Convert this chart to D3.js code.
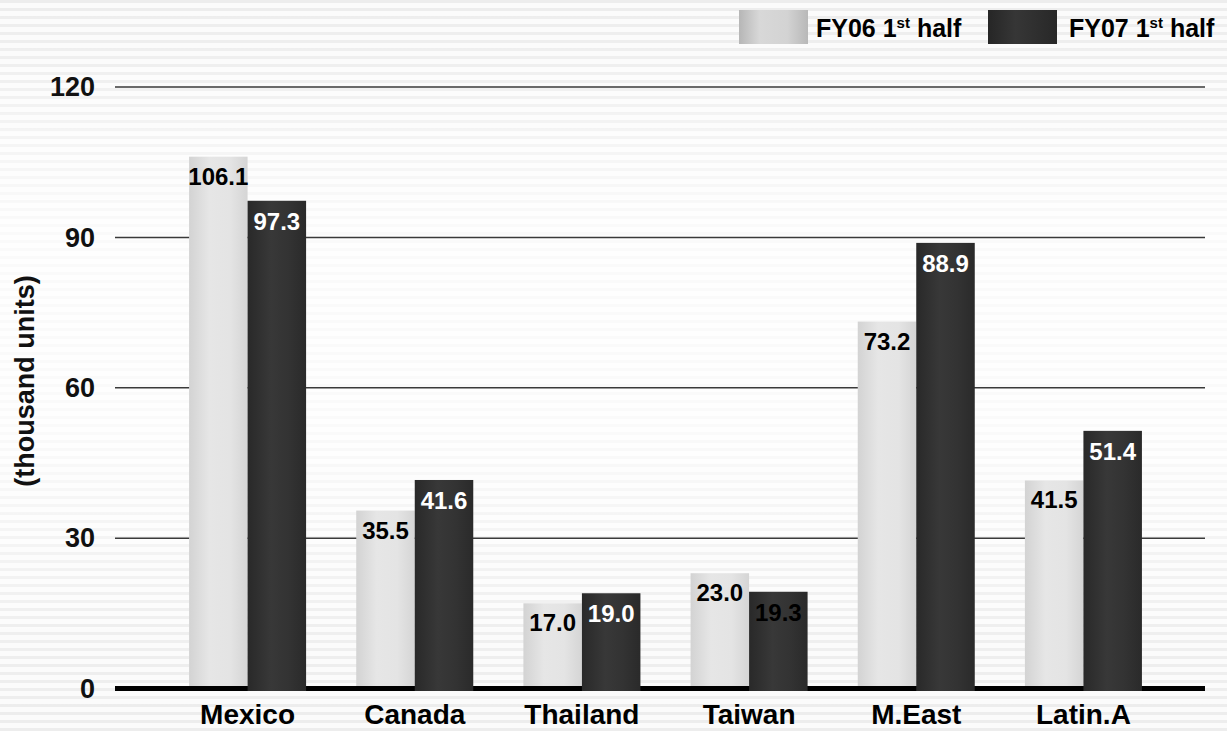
<!DOCTYPE html>
<html>
<head>
<meta charset="utf-8">
<script src="https://cdn.jsdelivr.net/npm/d3@7"></script>
<style>
  html, body { margin: 0; padding: 0; background: #ffffff; }
  svg { display: block; font-family: "Liberation Sans", Arial, Helvetica, sans-serif; font-weight: bold; }
</style>
</head>
<body>
<svg id="chart" width="1227" height="731"></svg>
<script>
// Regional sales, first half of FY06 vs FY07 (thousand units)
const categories = ["Mexico", "Canada", "Thailand", "Taiwan", "M.East", "Latin.A"];
const seriesNames = ["FY06", "FY07"];
const fy06Values = [106.1, 35.5, 17.0, 23.0, 73.2, 41.5];
const fy07Values = [97.3, 41.6, 19.0, 19.3, 88.9, 51.4];
const yTicks = [0, 30, 60, 90, 120];
const yTitle = "(thousand units)";

// Labels on the dark series drawn in black instead of white
const darkInkCategories = ["Taiwan"];

const W = 1227, H = 731;
const svg = d3.select("#chart");
const defs = svg.append("defs");

// ---- background: faint horizontal stripes, strongest at top and bottom ----
const pat = defs.append("pattern")
  .attr("id", "stripes").attr("patternUnits", "userSpaceOnUse")
  .attr("width", 8).attr("height", 8);
pat.append("rect").attr("width", 8).attr("height", 8).attr("fill", "#fbfbfb");
pat.append("rect").attr("y", 0).attr("width", 8).attr("height", 3).attr("fill", "#ededed");

const fade = defs.append("linearGradient").attr("id", "stripeFade")
  .attr("x1", 0).attr("y1", 0).attr("x2", 0).attr("y2", 1);
[[0, 1], [0.08, 0.9], [0.3, 0.3], [0.6, 0.3], [0.87, 0.9], [1, 1]].forEach(([o, a]) =>
  fade.append("stop").attr("offset", o).attr("stop-color", "#fff").attr("stop-opacity", a));
const mask = defs.append("mask").attr("id", "stripeMask");
mask.append("rect").attr("width", W).attr("height", H).attr("fill", "url(#stripeFade)");

svg.append("rect").attr("width", W).attr("height", H).attr("fill", "#ffffff");
svg.append("rect").attr("width", W).attr("height", H)
  .attr("fill", "url(#stripes)").attr("mask", "url(#stripeMask)");

// ---- gradients for bars and legend swatches ----
function hGrad(id, stops) {
  const g = defs.append("linearGradient").attr("id", id)
    .attr("x1", 0).attr("y1", 0).attr("x2", 1).attr("y2", 0);
  stops.forEach(([o, c]) => g.append("stop").attr("offset", o).attr("stop-color", c));
}
hGrad("barLight", [[0, "#d3d3d3"], [0.35, "#e6e6e6"], [0.7, "#e4e4e4"], [1, "#d5d5d5"]]);
hGrad("barDark", [[0, "#292929"], [0.4, "#383838"], [0.7, "#333333"], [1, "#2a2a2a"]]);
hGrad("swLight", [[0, "#b6b6b6"], [0.3, "#d8d8d8"], [0.7, "#d3d3d3"], [1, "#b8b8b8"]]);
hGrad("swDark", [[0, "#262626"], [0.4, "#363636"], [1, "#282828"]]);

// ---- scales ----
const plotLeft = 115, plotRight = 1205;
const y = d3.scaleLinear().domain([0, 120]).range([688.5, 87]);
const x = d3.scaleBand().domain(categories).range([164, 1167])
  .paddingInner(0.3).paddingOuter(0.15);
const xs = d3.scaleBand().domain(seriesNames).range([0, x.bandwidth()]);

// ---- grid lines ----
svg.append("g").selectAll("line")
  .data(yTicks.filter(t => t !== 0))
  .join("line")
  .attr("x1", plotLeft).attr("x2", plotRight)
  .attr("y1", d => y(d)).attr("y2", d => y(d))
  .attr("stroke", "#3a3a3a").attr("stroke-width", 1.5);

// ---- y axis tick labels ----
const yAxis = d3.axisLeft(y).tickValues(yTicks).tickSize(0).tickPadding(0);
const yg = svg.append("g").attr("transform", `translate(95,0)`).call(yAxis);
yg.select(".domain").remove();
yg.selectAll("text")
  .attr("font-size", 27).attr("font-weight", "bold")
  .attr("font-family", "Liberation Sans, Arial, sans-serif")
  .attr("fill", "#111");

svg.append("text")
  .attr("transform", `translate(34,381) rotate(-90)`)
  .attr("text-anchor", "middle")
  .attr("font-size", 27).attr("fill", "#111")
  .text(yTitle);

// ---- bars ----
const rows = categories.map((c, i) => ({ cat: c, FY06: fy06Values[i], FY07: fy07Values[i] }));
const y0 = y(0);

svg.append("g").selectAll("rect")
  .data(rows).join("rect")
  .attr("x", d => x(d.cat) + xs("FY06"))
  .attr("width", xs.bandwidth())
  .attr("y", d => y(d.FY06))
  .attr("height", d => y0 - y(d.FY06))
  .attr("fill", "url(#barLight)");

// zero line sits over the light bars, under the dark ones
svg.append("line")
  .attr("x1", plotLeft).attr("x2", plotRight)
  .attr("y1", y0).attr("y2", y0)
  .attr("stroke", "#000").attr("stroke-width", 5);

svg.append("g").selectAll("rect")
  .data(rows).join("rect")
  .attr("x", d => x(d.cat) + xs("FY07"))
  .attr("width", xs.bandwidth())
  .attr("y", d => y(d.FY07))
  .attr("height", d => y0 + 2.5 - y(d.FY07))
  .attr("fill", "url(#barDark)");

// ---- value labels ----
const lab = svg.append("g").attr("text-anchor", "middle").attr("font-size", 24);
lab.selectAll("text.v06").data(rows).join("text").attr("class", "v06")
  .attr("x", d => x(d.cat) + xs("FY06") + xs.bandwidth() / 2)
  .attr("y", d => y(d.FY06) + 28)
  .attr("fill", "#000")
  .text(d => d.FY06.toFixed(1));
lab.selectAll("text.v07").data(rows).join("text").attr("class", "v07")
  .attr("x", d => x(d.cat) + xs("FY07") + xs.bandwidth() / 2)
  .attr("y", d => y(d.FY07) + 29)
  .attr("fill", d => darkInkCategories.includes(d.cat) ? "#000" : "#fff")
  .text(d => d.FY07.toFixed(1));

// ---- category labels ----
svg.append("g").attr("text-anchor", "middle").attr("font-size", 28)
  .selectAll("text").data(categories).join("text")
  .attr("x", d => x(d) + x.bandwidth() / 2)
  .attr("y", 724)
  .attr("fill", "#000")
  .text(d => d);

// ---- legend ----
const legendItems = [
  { key: "FY06", fill: "url(#swLight)", sx: 739, tx: 816 },
  { key: "FY07", fill: "url(#swDark)", sx: 988, tx: 1069 }
];
const lg = svg.append("g");
legendItems.forEach(it => {
  lg.append("rect").attr("x", it.sx).attr("y", 10).attr("width", 69).attr("height", 34)
    .attr("fill", it.fill);
  const t = lg.append("text").attr("x", it.tx).attr("y", 37).attr("font-size", 25).attr("fill", "#000");
  t.append("tspan").text(it.key + " 1");
  t.append("tspan").attr("font-size", 15).attr("dy", -9).text("st");
  t.append("tspan").attr("dy", 9).text(" half");
});
</script>
</body>
</html>
